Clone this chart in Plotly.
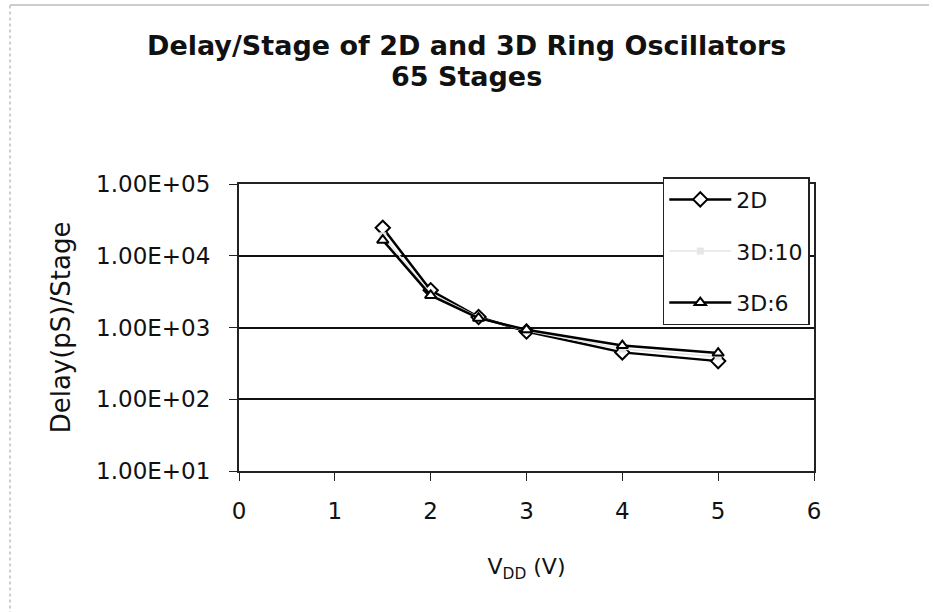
import plotly.graph_objects as go

# Supply voltage (V) and delay per stage (ps) for a 65-stage ring oscillator
vdd = [1.5, 2, 2.5, 3, 4, 5]
delay_2d = [24500, 3300, 1400, 880, 450, 340]
delay_3d10 = [19000, 3000, 1380, 900, 500, 390]
delay_3d6 = [16500, 2800, 1350, 930, 560, 440]

y_tickvals = [1e1, 1e2, 1e3, 1e4, 1e5]
y_ticktext = ["1.00E+01", "1.00E+02", "1.00E+03", "1.00E+04", "1.00E+05"]
x_tickvals = [0, 1, 2, 3, 4, 5, 6]

title_lines = ["Delay/Stage of 2D and 3D Ring Oscillators", "65 Stages"]

FONT = "DejaVu Sans"
PLOT_TOP, PLOT_BOTTOM, PLOT_H = 184, 471, 287


def paper_y(px):
    # convert a pixel row of the page into a paper coordinate
    return (PLOT_BOTTOM - px) / PLOT_H


fig = go.Figure()

fig.add_trace(go.Scatter(
    x=vdd, y=delay_2d, name="2D", mode="lines+markers", legendgroup="a",
    line=dict(color="black", width=2.5),
    marker=dict(symbol="diamond", size=11, color="white",
                line=dict(color="black", width=2)),
))
fig.add_trace(go.Scatter(
    x=vdd, y=delay_3d10, name="3D:10", mode="lines+markers", legendgroup="b",
    line=dict(color="#e6e6e6", width=1.5),
    marker=dict(symbol="square", size=7, color="#e6e6e6"),
))
fig.add_trace(go.Scatter(
    x=vdd, y=delay_3d6, name="3D:6", mode="lines+markers", legendgroup="c",
    line=dict(color="black", width=2.5),
    marker=dict(symbol="triangle-up", size=10, color="white",
                line=dict(color="black", width=2)),
))

fig.update_layout(
    width=933, height=612,
    margin=dict(l=239, r=119, t=PLOT_TOP, b=612 - PLOT_BOTTOM),
    paper_bgcolor="white", plot_bgcolor="white",
    font=dict(family=FONT, size=22, color="#111"),
    legend=dict(
        x=0.737, xanchor="left", y=1.024, yanchor="top",
        bgcolor="white", bordercolor="#222", borderwidth=1.5,
        font=dict(family=FONT, size=22, color="#111"),
        traceorder="grouped", tracegroupgap=20, itemwidth=62,
    ),
    showlegend=True,
)

# Two-line chart title
for text, row in zip(title_lines, [45, 76]):
    fig.add_annotation(
        text=f"<b>{text}</b>", xref="paper", yref="paper",
        x=(466 - 239) / 575, y=paper_y(row), xanchor="center", yanchor="middle",
        showarrow=False, font=dict(family=FONT, size=27, color="#111"),
    )

fig.update_xaxes(
    range=[0, 6], tickvals=x_tickvals, showgrid=False, zeroline=False,
    showline=True, linecolor="#222", linewidth=2, mirror=True,
    ticks="outside", ticklen=8, tickcolor="#222", ticklabelstandoff=10,
    tickfont=dict(family=FONT, size=23),
    title=dict(text="V<sub>DD</sub> (V)", standoff=36,
               font=dict(family=FONT, size=22)),
)
fig.update_yaxes(
    type="log", range=[1, 5], tickvals=y_tickvals, ticktext=y_ticktext,
    showgrid=True, gridcolor="#111", gridwidth=2, zeroline=False,
    showline=True, linecolor="#222", linewidth=2, mirror=True,
    ticks="outside", ticklen=8, tickcolor="#222", ticklabelstandoff=14,
    tickfont=dict(family=FONT, size=23),
    title=dict(text="Delay(pS)/Stage", standoff=18,
               font=dict(family=FONT, size=26)),
)

# Chart-area frame (top and left edges)
fig.add_shape(type="line", xref="paper", yref="paper",
              x0=(10 - 239) / 575, x1=1.2, y0=paper_y(5), y1=paper_y(5),
              line=dict(color="#999", width=1))
fig.add_shape(type="line", xref="paper", yref="paper",
              x0=(10 - 239) / 575, x1=(10 - 239) / 575, y0=-0.5, y1=paper_y(5),
              line=dict(color="#999", width=1, dash="dot"))

fig.write_html("out.html")
